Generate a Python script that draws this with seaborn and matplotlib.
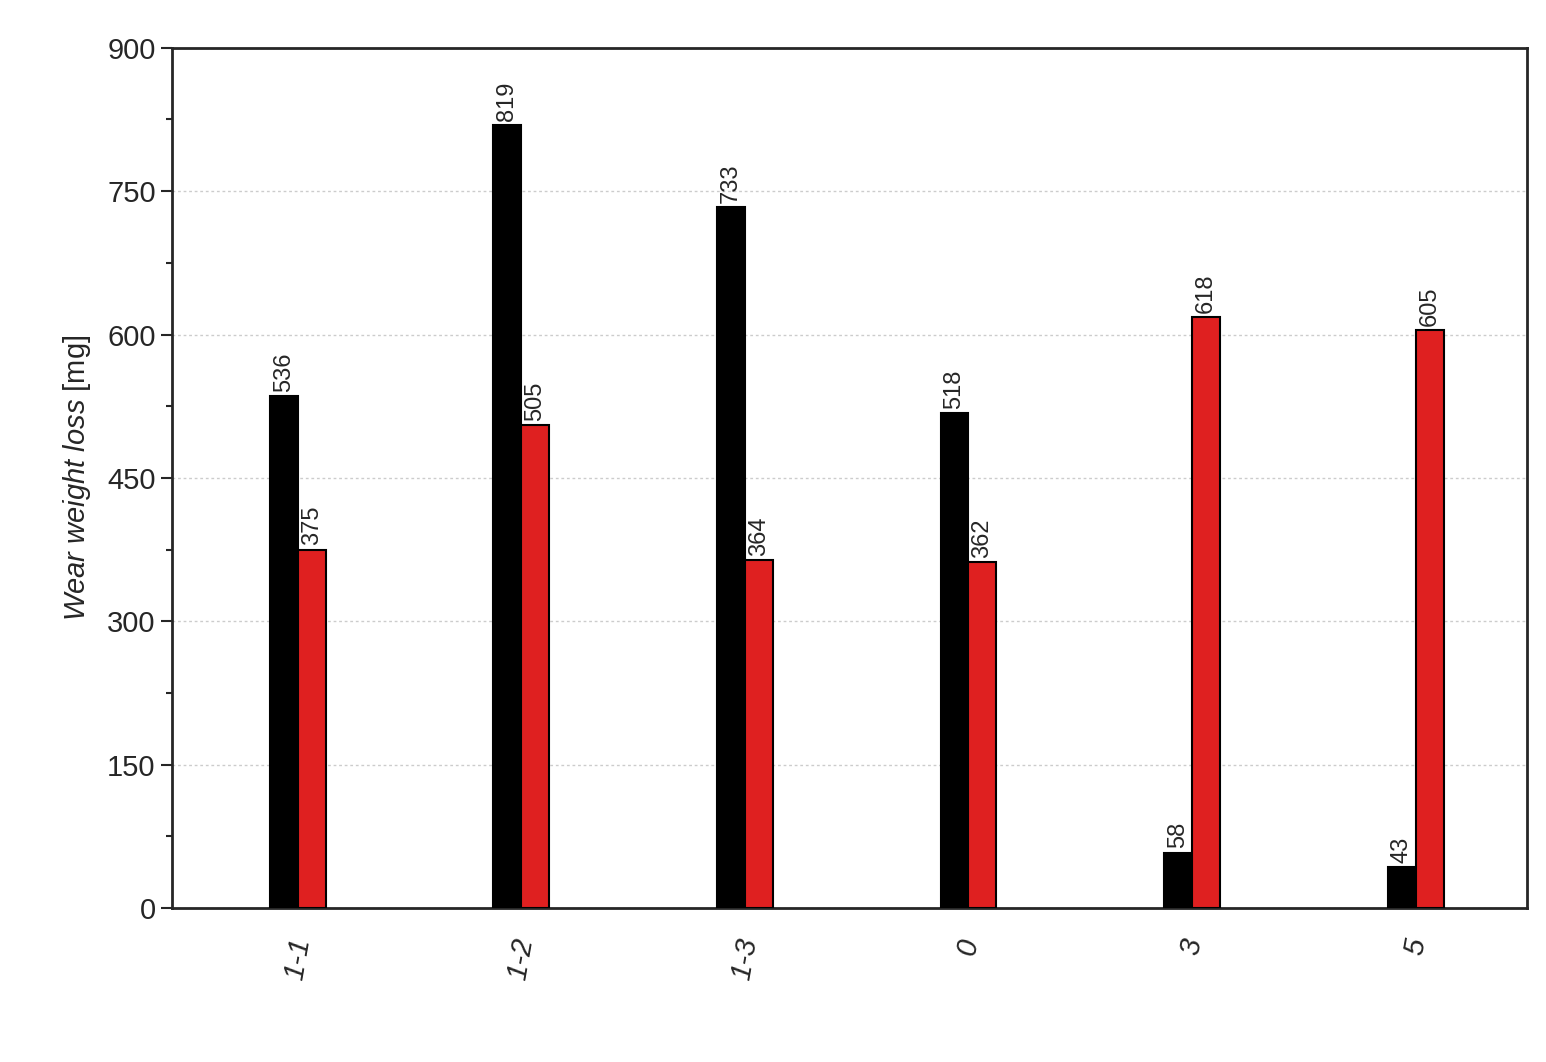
import pandas as pd
import matplotlib
matplotlib.use("Agg")
import matplotlib.pyplot as plt
import seaborn as sns
from matplotlib.ticker import MultipleLocator

# Data
categories = ["1-1", "1-2", "1-3", "0", "3", "5"]
black_vals = [536, 819, 733, 518, 58, 43]
red_vals = [375, 505, 364, 362, 618, 605]

df = pd.DataFrame({
    "cat": categories * 2,
    "val": black_vals + red_vals,
    "series": ["A"] * len(categories) + ["B"] * len(categories),
})

sns.set_style("ticks")
plt.rcParams["font.family"] = ["Liberation Sans", "DejaVu Sans"]
plt.rcParams["mathtext.fontset"] = "custom"
plt.rcParams["mathtext.it"] = "Liberation Sans:italic"
plt.rcParams["mathtext.rm"] = "Liberation Sans"

fig = plt.figure(figsize=(15.46, 10.62), dpi=100)
ax = fig.add_axes([0.111, 0.145, 0.877, 0.81])

sns.barplot(data=df, x="cat", y="val", hue="series", order=categories,
            palette={"A": "black", "B": "red"}, width=0.25,
            edgecolor="black", linewidth=1.5, legend=False, ax=ax, zorder=3)

for cont in ax.containers:
    ax.bar_label(cont, labels=[str(int(v)) for v in cont.datavalues],
                 rotation=90, padding=3, fontsize=17)

ax.set_xlim(-0.564, 5.5)
ax.set_ylim(0, 900)
ax.yaxis.set_major_locator(MultipleLocator(150))
ax.yaxis.set_minor_locator(MultipleLocator(75))
ax.grid(axis="y", linestyle=(0, (2, 2)), color="#cccccc", linewidth=1, zorder=0)
ax.tick_params(axis="y", which="major", labelsize=21, length=8, width=1.5, direction="out")
ax.tick_params(axis="y", which="minor", length=4, width=1.5, direction="out")
ax.tick_params(axis="x", length=0, labelsize=21, pad=20)
for lbl in ax.get_xticklabels():
    lbl.set_rotation(80)
    lbl.set_fontstyle("italic")
for s in ax.spines.values():
    s.set_linewidth(2)
    s.set_visible(True)

ax.set_xlabel("")
ax.set_ylabel(r"$\mathit{Wear\ weight\ loss}$ [mg]", fontsize=21, labelpad=10)

fig.savefig("out.png", dpi=100)
